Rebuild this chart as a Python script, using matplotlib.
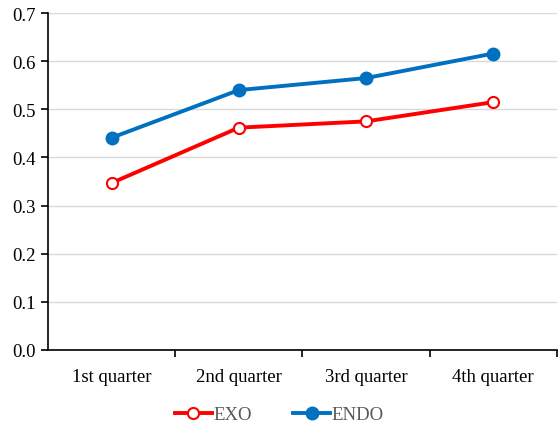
import matplotlib
matplotlib.use("Agg")
import matplotlib.pyplot as plt

plt.rcParams['font.family'] = ['Liberation Serif', 'DejaVu Serif']

quarters = ["1st quarter", "2nd quarter", "3rd quarter", "4th quarter"]
exo = [0.347, 0.462, 0.475, 0.515]
endo = [0.441, 0.540, 0.565, 0.616]
y_ticks = [0.0, 0.1, 0.2, 0.3, 0.4, 0.5, 0.6, 0.7]

fig = plt.figure(figsize=(5.58, 4.27), dpi=100)
ax = fig.add_axes([0.086, 0.178, 0.912, 0.789])

x = list(range(len(quarters)))
ax.plot(x, exo, color="#FF0000", lw=2.8, marker="o", ms=8,
        mfc="white", mec="#FF0000", mew=1.5, label="EXO", zorder=3)
ax.plot(x, endo, color="#0070C0", lw=2.8, marker="o", ms=9,
        mfc="#0070C0", mec="#0070C0", label="ENDO", zorder=3)

ax.set_xlim(-0.5, len(quarters) - 0.5)
ax.set_ylim(0, 0.7)
ax.set_yticks(y_ticks)
ax.set_yticklabels([f"{v:.1f}" for v in y_ticks], fontsize=13.5)
ax.yaxis.grid(True, color="#D9D9D9", lw=1)
ax.set_axisbelow(True)

# category labels centred, tick marks on the category boundaries
ax.set_xticks(x)
ax.set_xticklabels(quarters, fontsize=13.5)
ax.tick_params(axis="x", length=0, pad=13)
ax.set_xticks([i + 0.5 for i in range(len(quarters))], minor=True)
ax.tick_params(axis="x", which="minor", length=5, width=1.2, color="black")
ax.tick_params(axis="y", length=5, width=1.2, pad=4)

for s in ["top", "right"]:
    ax.spines[s].set_visible(False)
for s in ["left", "bottom"]:
    ax.spines[s].set_linewidth(1.2)

# legend centred on the whole figure, below the axis
leg = fig.legend(loc="upper center", bbox_to_anchor=(0.5, 0.086), ncol=2,
                 frameon=False, fontsize=13.5, handlelength=2.0,
                 columnspacing=2.2, handletextpad=0.05)
for t in leg.get_texts():
    t.set_color("#595959")

fig.savefig("out.png", dpi=100)
